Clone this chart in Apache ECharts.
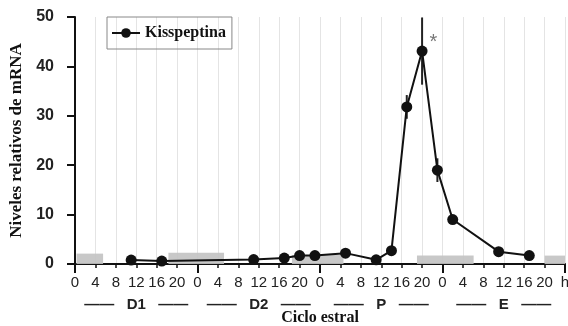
<!DOCTYPE html>
<html>
<head>
<meta charset="utf-8">
<script src="https://cdn.jsdelivr.net/npm/echarts@6/dist/echarts.min.js"></script>
<style>html,body{margin:0;padding:0;background:#fff;}#c{width:568px;height:326px;}</style>
</head>
<body>
<div id="c"></div>
<script>
// Data
const hours = [11, 17, 35, 41, 44, 47, 53, 59, 62, 65, 68, 71, 74, 83, 89];
const kisspeptina = [0.8, 0.6, 0.9, 1.2, 1.7, 1.7, 2.2, 0.85, 2.7, 31.8, 43.1, 19.0, 9.0, 2.5, 1.7];
const errors = [0, 0, 0, 0, 0, 0, 0, 0, 0, 2.4, 6.8, 2.4, 0, 0, 0];
const darkStart = [0.3, 18.3, 42.5, 67, 92];
const darkEnd = [5.5, 29.2, 52.6, 78.1, 96];
const darkLevel = [2.1, 2.3, 1.8, 1.7, 1.7];
const days = ['D1', 'D2', 'P', 'E'];
const hourTicks = [0, 4, 8, 12, 16, 20, 24, 28, 32, 36, 40, 44, 48, 52, 56, 60, 64, 68, 72, 76, 80, 84, 88, 92, 96];
const hourLabels = ['0','4','8','12','16','20','0','4','8','12','16','20','0','4','8','12','16','20','0','4','8','12','16','20','h'];
const significantIndex = 10;

const chart = echarts.init(document.getElementById('c'), null, {renderer: 'canvas'});
const sans = 'Liberation Sans, Arial, sans-serif';
const serif = 'Liberation Serif, Times New Roman, serif';

const lineData = hours.map((h, i) => {
  const item = {value: [h, kisspeptina[i]]};
  if (i === significantIndex) {
    item.label = {show: true, formatter: '*', position: [13, -13], color: '#777', fontSize: 20, fontFamily: sans};
  }
  return item;
});
const errData = hours.map((h, i) => [h, kisspeptina[i] - errors[i], kisspeptina[i] + errors[i]]).filter((d, i) => errors[i] > 0);
const darkData = darkStart.map((s, i) => [s, darkEnd[i], darkLevel[i]]);

chart.setOption({
  animation: false,
  backgroundColor: '#fff',
  grid: {left: 75, right: 3, top: 17, bottom: 62, outerBoundsMode: 'none', containLabel: false},
  legend: {
    left: 107, top: 17,
    padding: [8, 6, 8, 4],
    borderColor: '#888', borderWidth: 1,
    itemWidth: 28, itemHeight: 12,
    textStyle: {fontFamily: serif, fontWeight: 'bold', fontSize: 16, color: '#111'},
    data: ['Kisspeptina']
  },
  xAxis: [{
    type: 'value', min: 0, max: 96, interval: 4,
    name: 'Ciclo estral', nameLocation: 'middle', nameGap: 46,
    nameTextStyle: {fontFamily: serif, fontWeight: 'bold', fontSize: 16, color: '#111'},
    axisLine: {show: true, lineStyle: {color: '#111', width: 2}},
    axisTick: {show: true, length: 4, lineStyle: {color: '#111', width: 1.5}},
    splitLine: {show: true, lineStyle: {color: '#e4e4e4', width: 1}},
    axisLabel: {
      margin: 11, fontFamily: sans, fontSize: 15, color: '#222',
      formatter: v => hourLabels[hourTicks.indexOf(v)]
    }
  }, {
    type: 'category', position: 'bottom', data: days, boundaryGap: true,
    axisLine: {show: false},
    axisTick: {show: true, length: 9, interval: 0, lineStyle: {color: '#111', width: 2}},
    splitLine: {show: false},
    axisLabel: {
      margin: 33, interval: 0, fontFamily: sans, fontSize: 15, fontWeight: 'bold', color: '#222',
      formatter: v => '\u2014\u2014   ' + v + '   \u2014\u2014'
    }
  }],
  yAxis: {
    type: 'value', min: 0, max: 50, interval: 10,
    name: 'Niveles relativos de mRNA', nameLocation: 'middle', nameGap: 48,
    nameTextStyle: {fontFamily: serif, fontWeight: 'bold', fontSize: 17, color: '#111'},
    axisLine: {show: true, lineStyle: {color: '#111', width: 2}},
    axisTick: {show: true, length: 8, lineStyle: {color: '#111', width: 2}},
    splitLine: {show: false},
    axisLabel: {margin: 21, fontFamily: sans, fontSize: 16, fontWeight: 'bold', color: '#222'}
  },
  series: [{
    type: 'custom', name: 'dark', xAxisIndex: 0, yAxisIndex: 0, z: 1, silent: true,
    renderItem: (params, api) => {
      const a = api.coord([api.value(0), api.value(2)]);
      const b = api.coord([api.value(1), 0]);
      return {type: 'rect', shape: {x: a[0], y: a[1], width: b[0] - a[0], height: b[1] - a[1]}, style: {fill: '#c2c2c2', opacity: 0.9}};
    },
    data: darkData
  }, {
    type: 'custom', name: 'err', xAxisIndex: 0, yAxisIndex: 0, z: 3, silent: true,
    renderItem: (params, api) => {
      const lo = api.coord([api.value(0), api.value(1)]);
      const hi = api.coord([api.value(0), api.value(2)]);
      return {type: 'line', shape: {x1: lo[0], y1: lo[1], x2: hi[0], y2: hi[1]}, style: {stroke: '#222', lineWidth: 2}};
    },
    data: errData
  }, {
    type: 'line', name: 'Kisspeptina', xAxisIndex: 0, yAxisIndex: 0, z: 4,
    data: lineData,
    symbol: 'circle', symbolSize: 11,
    lineStyle: {color: '#111', width: 2},
    itemStyle: {color: '#111'}
  }]
});
</script>
</body>
</html>
